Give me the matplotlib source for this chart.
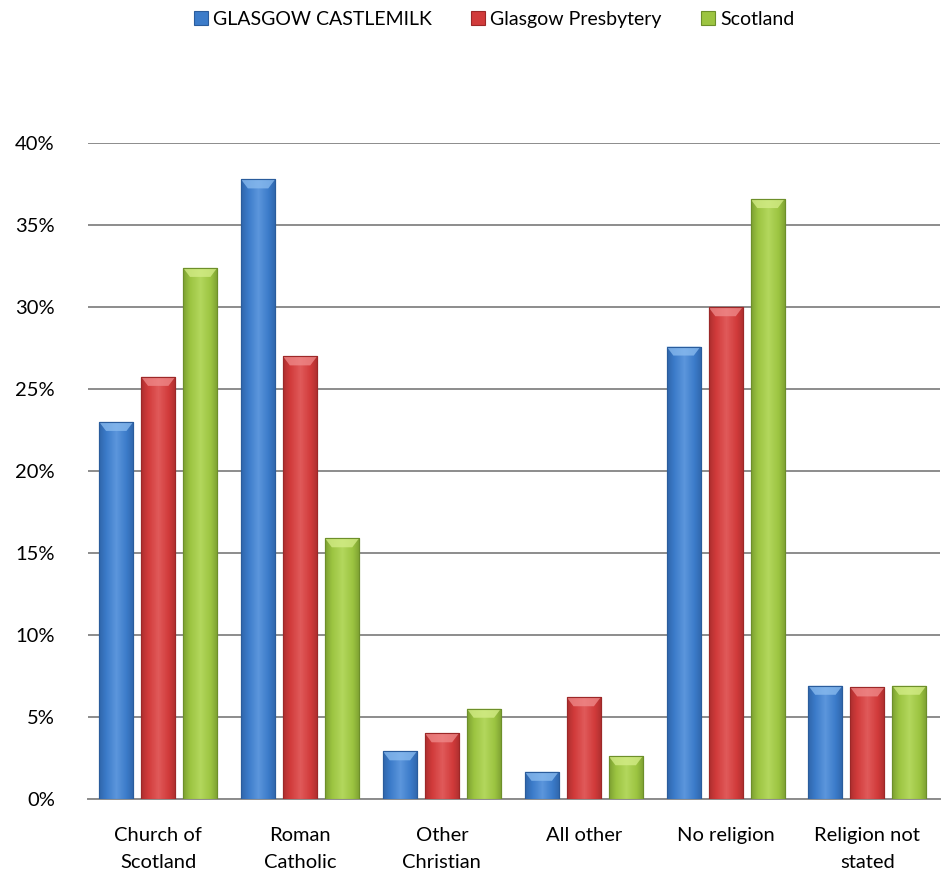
import numpy as np
import matplotlib
matplotlib.use("Agg")
import matplotlib.pyplot as plt
from matplotlib.colors import LinearSegmentedColormap

plt.rcParams['font.family'] = ['Lato', 'DejaVu Sans']

categories = ["Church of\nScotland", "Roman\nCatholic", "Other\nChristian",
              "All other", "No religion", "Religion not\nstated"]
series_names = ["GLASGOW CASTLEMILK", "Glasgow Presbytery", "Scotland"]
castlemilk = [23.0, 37.8, 2.9, 1.65, 27.6, 6.9]
presbytery = [25.75, 27.0, 4.0, 6.2, 30.0, 6.8]
scotland = [32.4, 15.9, 5.5, 2.6, 36.6, 6.9]
yticks = [0, 5, 10, 15, 20, 25, 30, 35, 40]

colors = ["#3b7bc9", "#d13b3b", "#9cc441"]
dark = ["#2a5c9c", "#9c2828", "#6d8f2a"]
light = ["#5c96dc", "#e05a5a", "#b3d75d"]
cap_col = ["#8cbdf0", "#f08c8c", "#d6ee8a"]

fig = plt.figure(figsize=(9.48, 8.74), dpi=100)
ax = fig.add_axes([0.093, 0.086, 0.899, 0.75])

x = np.arange(len(categories))
width = 0.24
offsets = [-0.296, 0, 0.296]
all_values = [castlemilk, presbytery, scotland]

for i, vals in enumerate(all_values):
    bars = ax.bar(x + offsets[i], vals, width, color=colors[i],
                  edgecolor=dark[i], linewidth=0.8, label=series_names[i], zorder=3)
    cmap = LinearSegmentedColormap.from_list("g%d" % i, [dark[i], colors[i], light[i], colors[i], dark[i]])
    grad = np.linspace(0, 1, 64).reshape(1, -1)
    for b in bars:
        bx, by = b.get_x(), b.get_y()
        bw, bh = b.get_width(), b.get_height()
        im = ax.imshow(grad, cmap=cmap, aspect='auto', extent=[bx, bx + bw, by, by + bh],
                       zorder=3.5, vmin=-0.1, vmax=1.1)
        im.set_clip_path(b)
        # bevel top
        cap = min(0.55, bh * 0.45)
        ax.fill([bx, bx + bw, bx + bw * 0.8, bx + bw * 0.2],
                [by + bh, by + bh, by + bh - cap, by + bh - cap],
                color=cap_col[i], alpha=0.75, zorder=4, linewidth=0)
        ax.bar(bx + bw / 2, bh, bw, fill=False, edgecolor=dark[i], linewidth=0.8, zorder=5)

ax.set_xlim(-0.494, 5.515)
ax.set_ylim(0, 40)
ax.set_yticks(yticks)
ax.set_yticklabels(["%d%%" % t for t in yticks])
ax.set_xticks(x)
ax.set_xticklabels(categories, linespacing=1.75)
ax.yaxis.grid(True, color="#8c8c8c", linewidth=1.4, zorder=0)
ax.set_axisbelow(True)
for s in ["top", "right", "left"]:
    ax.spines[s].set_visible(False)
ax.spines["bottom"].set_color("#8c8c8c")
ax.spines["bottom"].set_linewidth(1.4)
ax.tick_params(axis='both', length=0, labelsize=14.5, colors="#000000")
ax.tick_params(axis='y', pad=24)
ax.tick_params(axis='x', pad=20)

handles, labels = ax.get_legend_handles_labels()
fig.legend(handles, labels, loc="upper center", bbox_to_anchor=(0.521, 1.008), ncol=3,
           frameon=False, fontsize=14, handlelength=0.75, handleheight=0.75,
           handletextpad=0.25, columnspacing=2.0)

fig.savefig("out.png", dpi=100)
